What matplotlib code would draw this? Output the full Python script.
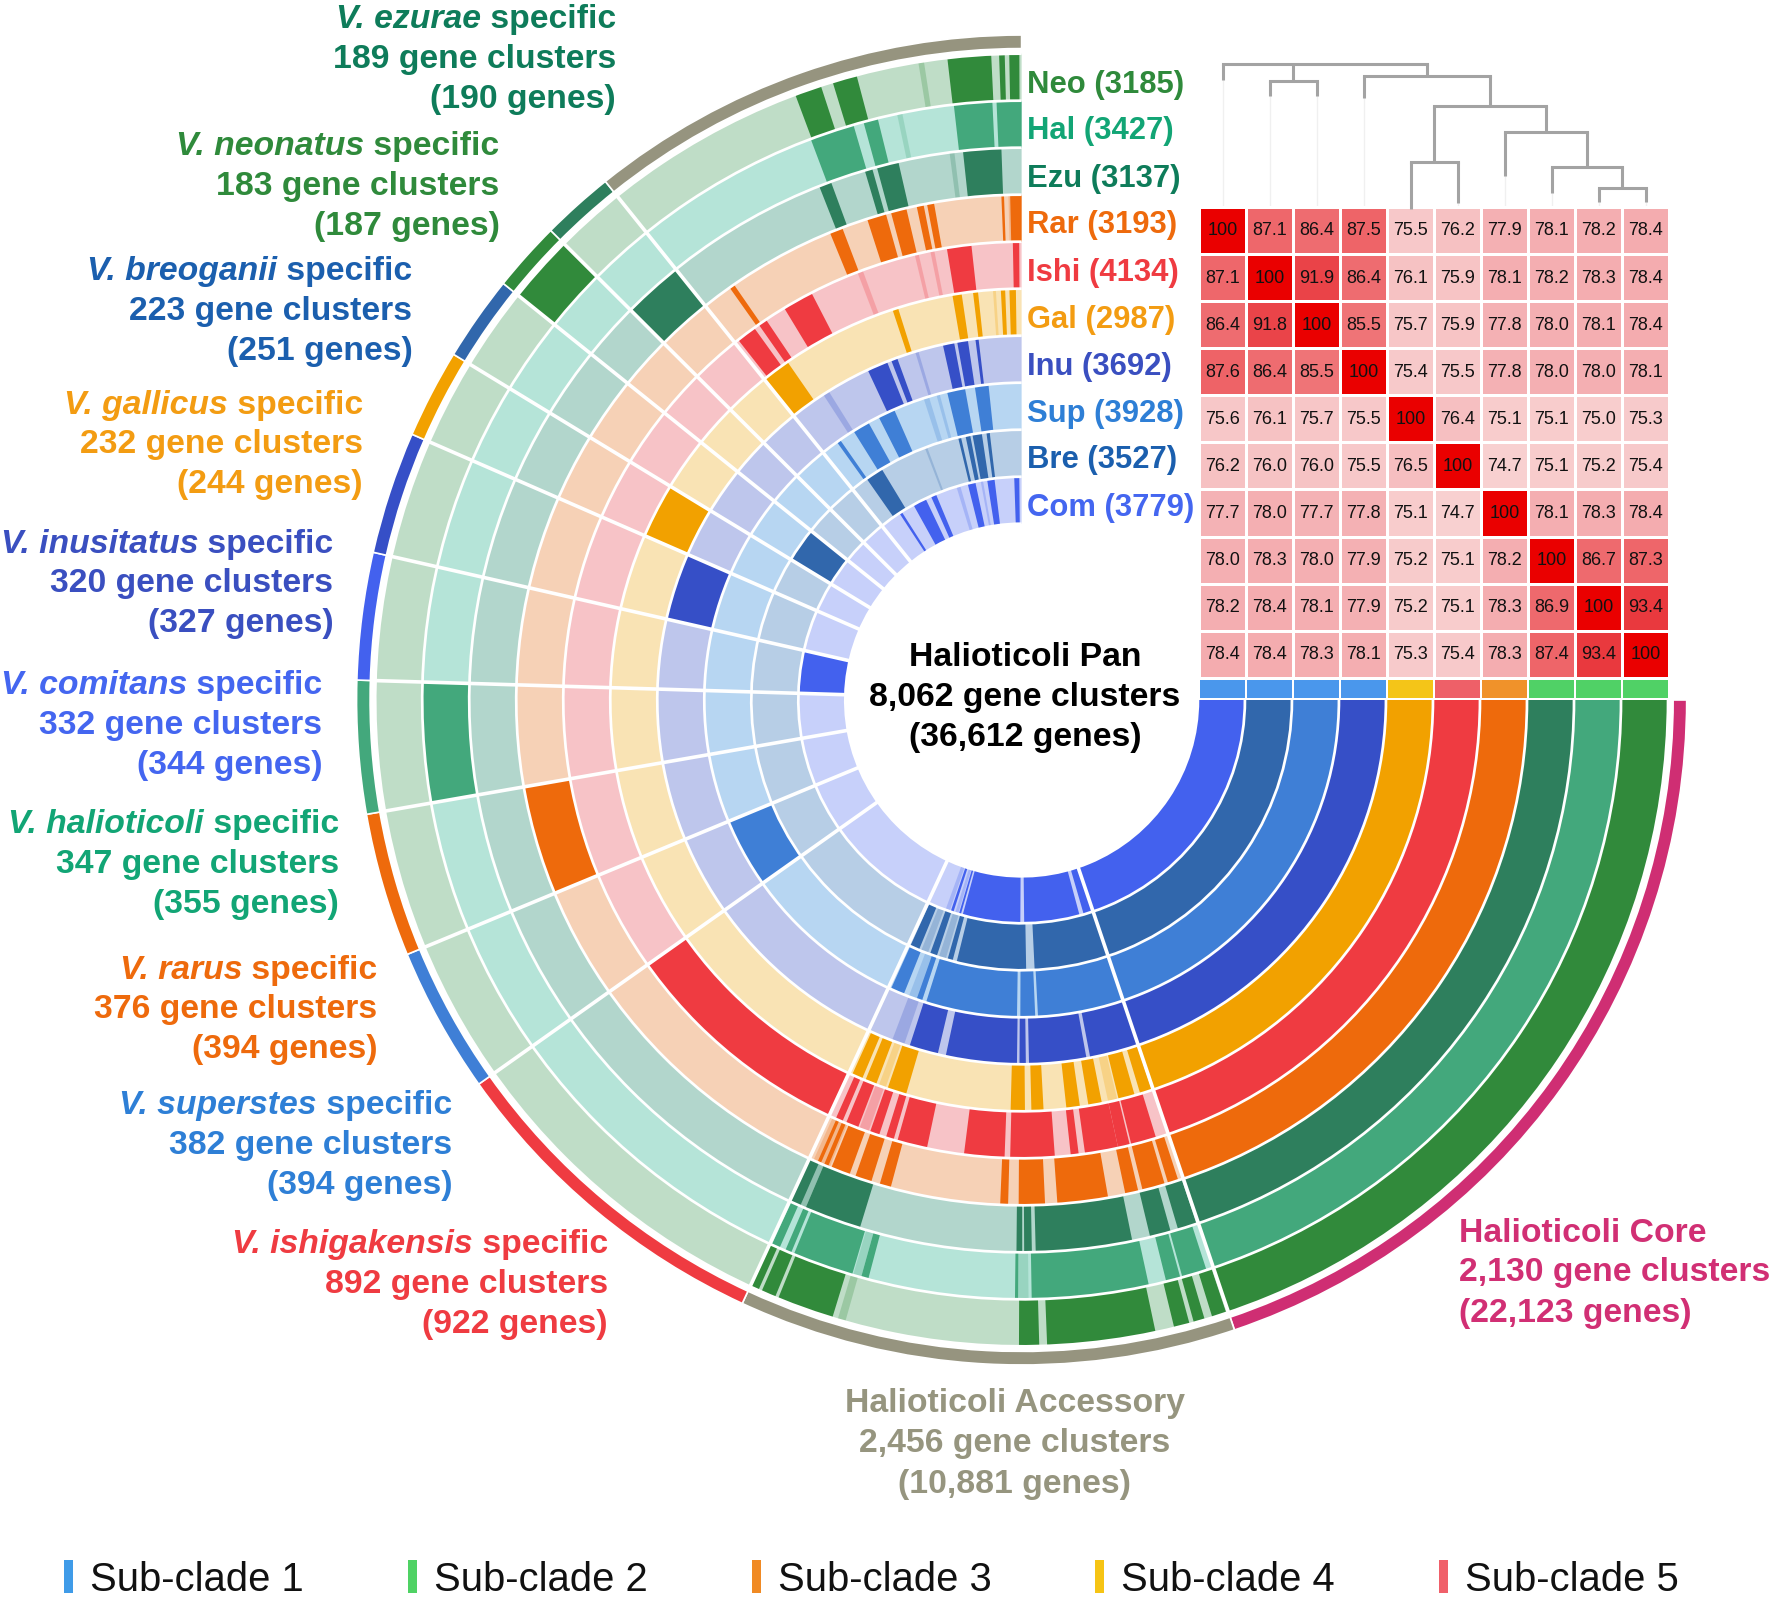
import matplotlib
matplotlib.use("Agg")
import matplotlib.pyplot as plt
from matplotlib.patches import Wedge, Rectangle
from matplotlib.colors import LinearSegmentedColormap
import numpy as np

plt.rcParams["font.family"] = ["Liberation Sans", "DejaVu Sans"]

# rings, inner to outer
genomes = ["Com", "Bre", "Sup", "Inu", "Gal", "Ishi", "Rar", "Ezu", "Hal", "Neo"]
genome_sizes = [3779, 3527, 3928, 3692, 2987, 4134, 3193, 3137, 3427, 3185]
dark_colors = ["#4361EE", "#3167AC", "#3F7FD6", "#364FC7", "#F2A100",
               "#EF3B41", "#EE6A0C", "#2E7F5D", "#43A87C", "#318A3B"]
light_colors = ["#C7D0FA", "#B7CEE6", "#B7D6F2", "#BEC6EC", "#F9E3B4",
                "#F7C3C7", "#F6D1B6", "#B2D6CC", "#B5E4D8", "#BFDDC7"]
label_colors = ["#4466F0", "#1B5FAE", "#2E7FD6", "#3A4FC0", "#F39C12",
                "#EF3B41", "#EE6A0C", "#0E7C5A", "#12A575", "#2F8A3B"]

total_clusters = 8062
core_clusters = 2130
acc_bottom_clusters = 1299
acc_top_clusters = 1157
# clockwise order after the lower accessory block
specific_names = ["Ishi", "Sup", "Rar", "Hal", "Com", "Inu", "Gal", "Bre", "Neo", "Ezu"]
specific_clusters = [892, 382, 376, 347, 332, 320, 232, 223, 183, 189]

# filled spans in the lower accessory block, degrees past the end of the core
com_low = [(0, 2.5), (3.6, 18), (19, 34), (34.5, 35), (36.5, 37.2)]
bre_low = [(0, 15.9), (17.7, 32.6), (33.5, 34.6), (37, 38.5), (41, 43)]
sup_low = [(0, 15.7), (16.2, 18.9), (19.5, 36.2), (37, 38), (40.5, 43)]
inu_low = [(0, 7.8), (8.4, 17.5), (18, 19), (19.4, 30.7), (32, 36.6)]
gal_low = [(0.2, 1.9), (2.7, 5), (7.4, 9.3), (10.5, 12.4), (15.6, 17.3), (18.2, 20.2),
           (35, 37.7), (39.4, 41), (41.5, 43)]
ishi_low = [(1.6, 4.8), (5, 6.5), (6.5, 10.7), (11.5, 12.5), (14.5, 20.1), (20.8, 25.9),
            (30.6, 34.4), (34.9, 35.9), (36.8, 38), (39.6, 41.2), (41.7, 42.6)]
rar_low = [(0.6, 1.8), (2.2, 4.8), (5.3, 6.8), (8.8, 14.6), (16, 19), (20.2, 21.1),
           (33.7, 35), (36, 37.9), (38.6, 40.8), (41.2, 41.7), (42.1, 42.5)]
ezu_low = [(0.2, 2.2), (3, 5.2), (7.1, 17.2), (17.6, 18.4), (18.6, 19.2),
           (35.7, 41.7), (42.3, 43.4)]
hal_low = [(0.7, 3.1), (3.3, 4.7), (6.4, 17.7), (19, 19.3), (33.5, 34.2),
           (35.1, 41), (41.3, 41.9), (42.5, 43.3)]
neo_low = [(0.2, 1.5), (2.2, 3.2), (3.6, 5), (6.7, 16.4), (17.1, 18.9),
           (35.7, 40.8), (41.1, 42.4), (42.7, 43.4)]
low_spans = [com_low, bre_low, sup_low, inu_low, gal_low, ishi_low, rar_low, ezu_low, hal_low, neo_low]

# filled spans in the upper accessory block, degrees before 12 o'clock
com_top = [(0.6, 1.9), (7, 8.9), (12, 14), (22.6, 24), (25.5, 29), (32.5, 33.2)]
bre_top = [(6.8, 7.5), (8.5, 10.5), (11, 12), (13, 13.6), (31.2, 35)]
sup_top = [(6, 8.5), (10.3, 13.6), (23.7, 26.8), (28.9, 32), (34.9, 35.6)]
inu_top = [(6.8, 7.3), (8.5, 10.2), (10.7, 12.5), (20, 21), (21.7, 25)]
gal_top = [(0.8, 1.7), (2.3, 2.9), (6.1, 6.8), (8.4, 9.7), (17.5, 18.3), (34.7, 38.7)]
ishi_top = [(0.3, 1.1), (6.3, 9.4), (27.3, 31.2), (33.9, 35), (35.7, 38.2)]
rar_top = [(0, 1.3), (2, 2.3), (10, 10.8), (11.2, 12), (13.2, 15), (15.6, 17.8),
           (20.8, 22.3), (34.7, 35.3)]
ezu_top = [(2.1, 6.1), (12.9, 15.2), (15.7, 16.5), (20.2, 21.5)]
hal_top = [(0, 2.4), (2.8, 6.5), (13.9, 15.3), (16.3, 20.6)]
neo_top = [(0.2, 1.1), (1.5, 2), (2.7, 6.6), (14.8, 17), (18.1, 20.5)]
top_spans = [com_top, bre_top, sup_top, inu_top, gal_top, ishi_top, rar_top, ezu_top, hal_top, neo_top]

# weak streaks on the pale parts of the rings (ring name, from, to)
faint_top = [("Neo", 8.7, 9.2), ("Hal", 11.5, 12), ("Ezu", 7, 7.5), ("Ishi", 20.3, 21), ("Ishi", 11, 11.5),
             ("Ishi", 13, 13.5), ("Inu", 16.5, 17), ("Inu", 32, 33), ("Bre", 20.5, 21), ("Sup", 17, 18),
             ("Sup", 15, 15.6), ("Com", 10, 10.6), ("Com", 16, 17), ("Gal", 3.6, 4), ("Rar", 0.9, 1.5)]
faint_low = [("Com", 35.2, 36), ("Com", 37.5, 38.6), ("Bre", 35, 36.5), ("Bre", 39, 40.5), ("Sup", 37, 39.5),
             ("Inu", 37.5, 39.5), ("Gal", 38, 39), ("Ishi", 38.2, 39.4), ("Rar", 41, 43), ("Ezu", 41.7, 43),
             ("Hal", 34.2, 35), ("Hal", 18, 19), ("Neo", 34.5, 35.2), ("Gal", 5.2, 6.5)]

ani_values = [
    [100, 87.1, 86.4, 87.5, 75.5, 76.2, 77.9, 78.1, 78.2, 78.4],
    [87.1, 100, 91.9, 86.4, 76.1, 75.9, 78.1, 78.2, 78.3, 78.4],
    [86.4, 91.8, 100, 85.5, 75.7, 75.9, 77.8, 78.0, 78.1, 78.4],
    [87.6, 86.4, 85.5, 100, 75.4, 75.5, 77.8, 78.0, 78.0, 78.1],
    [75.6, 76.1, 75.7, 75.5, 100, 76.4, 75.1, 75.1, 75.0, 75.3],
    [76.2, 76.0, 76.0, 75.5, 76.5, 100, 74.7, 75.1, 75.2, 75.4],
    [77.7, 78.0, 77.7, 77.8, 75.1, 74.7, 100, 78.1, 78.3, 78.4],
    [78.0, 78.3, 78.0, 77.9, 75.2, 75.1, 78.2, 100, 86.7, 87.3],
    [78.2, 78.4, 78.1, 77.9, 75.2, 75.1, 78.3, 86.9, 100, 93.4],
    [78.4, 78.4, 78.3, 78.1, 75.3, 75.4, 78.3, 87.4, 93.4, 100],
]
strip_colors = ["#4A97EC"] * 4 + ["#F4C518", "#EE6068", "#F0922A"] + ["#50D166"] * 3
legend_names = ["Sub-clade 1", "Sub-clade 2", "Sub-clade 3", "Sub-clade 4", "Sub-clade 5"]
legend_colors = ["#3F9BE8", "#4FD264", "#F08A24", "#F6C414", "#F0606A"]

# dendrogram: children of each merge (leaf column or earlier merge name) and bar height
leaf_ends = [71.2, 85.4, 85.4, 86.6, 185, 180, 155.7, 170.7, 178.9, 178.9]
merges = [
    ("n89", [8, 9], 166.5),
    ("n7", [7, "n89"], 148),
    ("n6", [6, "n7"], 116.5),
    ("n45", [4, 5], 143),
    ("n46", ["n45", "n6"], 94),
    ("n3", [3, "n46"], 67.5),
    ("n12", [1, 2], 71.5),
    ("root", [0, "n12", "n3"], 56.5),
]

fig = plt.figure(figsize=(17.72, 16), dpi=100)
ax = fig.add_axes([0, 0, 1, 1])
ax.set_xlim(0, 1568)
ax.set_ylim(1416, 0)  # y runs down, so wedge angles run clockwise
ax.axis("off")

cx, cy = 904, 619.5
r_in = 156
ring_w = 41.6
n_rings = len(genomes)
r_out = r_in + n_rings * ring_w
deg_per_cluster = 270 / total_clusters
text_shift = 2.5


def ring_wedge(i, a0, a1, color, alpha=1):
    ax.add_patch(Wedge((cx, cy), r_in + (i + 1) * ring_w, a0, a1, width=ring_w, fc=color, ec="none",
                       alpha=alpha, zorder=2))


core_end = core_clusters * deg_per_cluster
low_end = core_end + acc_bottom_clusters * deg_per_cluster

for i in range(n_rings):
    ring_wedge(i, 0, core_end, dark_colors[i])
    ring_wedge(i, core_end, 270, light_colors[i])
    for s0, s1 in low_spans[i]:
        ring_wedge(i, core_end + s0, core_end + s1, dark_colors[i])
    for s0, s1 in top_spans[i]:
        ring_wedge(i, 270 - s1, 270 - s0, dark_colors[i])
for name, s0, s1 in faint_low:
    i = genomes.index(name)
    ring_wedge(i, core_end + s0, core_end + s1, dark_colors[i], alpha=0.25)
for name, s0, s1 in faint_top:
    i = genomes.index(name)
    ring_wedge(i, 270 - s1, 270 - s0, dark_colors[i], alpha=0.25)

# species-specific sectors
boundaries = [core_end, low_end]
a = low_end
rim_parts = [(0, core_end, "#CF2E73"), (core_end, low_end, "#96947F")]
for name, count in zip(specific_names, specific_clusters):
    b = a + count * deg_per_cluster
    i = genomes.index(name)
    ring_wedge(i, a, b, dark_colors[i])
    rim_parts.append((a, b, dark_colors[i]))
    boundaries.append(b)
    a = b
rim_parts.append((a, 270, "#96947F"))

for a0, a1, color in rim_parts:
    ax.add_patch(Wedge((cx, cy), r_out + 16.5, a0, a1, width=12, fc=color, ec="white", lw=1.2, zorder=3))

# white ring and sector separators
for i in range(n_rings + 1):
    ax.add_patch(Wedge((cx, cy), r_in + i * ring_w + 1.2, 0, 270, width=2.4, fc="white", ec="none", zorder=4))
for b in boundaries:
    t = np.deg2rad(b)
    ax.plot([cx + r_in * np.cos(t), cx + r_out * np.cos(t)],
            [cy + r_in * np.sin(t), cy + r_out * np.sin(t)], color="white", lw=2.6, zorder=4)

# heatmap
cell_w = 41.6
cell_h = 41.7
heat_x = 1061
heat_top = 183
heat_cmap = LinearSegmentedColormap.from_list(
    "ani", [(0, "#F8D0D0"), (0.13, "#F4AFB2"), (0.49, "#EE676B"), (0.75, "#E9373C"), (1, "#EA0000")])
ani = np.array(ani_values)
xe = heat_x + np.arange(11) * cell_w
ye = heat_top + np.arange(11) * cell_h
ax.pcolormesh(xe, ye, ani, cmap=heat_cmap, vmin=74.7, vmax=100, edgecolors="white", linewidth=2, zorder=2)
for r in range(10):
    for c in range(10):
        v = ani_values[r][c]
        txt = "100" if v == 100 else f"{v:.1f}"
        ax.text(xe[c] + cell_w / 2, ye[r] + cell_h / 2 + 0.5, txt, ha="center", va="center", fontsize=13,
                color="#111111", zorder=5)
for c, color in enumerate(strip_colors):
    ax.add_patch(Rectangle((xe[c] + 1, 602), cell_w - 2, 16, fc=color, ec="none", zorder=2))

# dendrogram
node_pos = {}
leaf_x = heat_x + (np.arange(10) + 0.5) * cell_w
for name, children, height in merges:
    xs = []
    for ch in children:
        if isinstance(ch, int):
            xs.append(leaf_x[ch])
            ax.plot([leaf_x[ch]] * 2, [height, leaf_ends[ch]], color="#A3A3A3", lw=2.2, solid_capstyle="butt", zorder=3)
            ax.plot([leaf_x[ch]] * 2, [leaf_ends[ch], heat_top], color="#F0F0F0", lw=1, zorder=1)
        else:
            xs.append(node_pos[ch][0])
            ax.plot([node_pos[ch][0]] * 2, [height, node_pos[ch][1]], color="#A3A3A3", lw=2.2, solid_capstyle="butt", zorder=3)
    ax.plot([min(xs), max(xs)], [height, height], color="#A3A3A3", lw=2.2, solid_capstyle="projecting", zorder=3)
    node_pos[name] = ((xs[0] + xs[-1]) / 2, height)

# genome labels
genome_label_y = [447, 405, 364, 322, 281, 239, 197, 156, 113, 73]
for i, g in enumerate(genomes):
    ax.text(909, genome_label_y[i] + text_shift, f"{g} ({genome_sizes[i]})", color=label_colors[i], fontsize=22.3,
            fontweight="bold", ha="left", va="center", zorder=5)

# species labels: species name in italics, the rest upright
species = ["V. ezurae", "V. neonatus", "V. breoganii", "V. gallicus", "V. inusitatus",
           "V. comitans", "V. halioticoli", "V. rarus", "V. superstes", "V. ishigakensis"]
species_clusters = [189, 183, 223, 232, 320, 332, 347, 376, 382, 892]
species_genes = [190, 187, 251, 244, 327, 344, 355, 394, 394, 922]
species_right = [545, 442, 365, 321, 295, 285, 300, 334, 400, 538]
species_y = [15, 127, 238, 356, 479, 604, 727, 856, 976, 1099]
species_colors = ["#0E7C5A", "#2F8A3B", "#1B5FAE", "#F39C12", "#3A4FC0",
                  "#4466F0", "#12A575", "#EE6A0C", "#2E7FD6", "#EF3B41"]
renderer = fig.canvas.get_renderer()
for k, sp in enumerate(species):
    x, y, col = species_right[k], species_y[k] + text_shift, species_colors[k]
    t = ax.text(x, y, " specific", color=col, fontsize=24.3, fontweight="bold", ha="right", va="center", zorder=5)
    x0 = ax.transData.inverted().transform(t.get_window_extent(renderer).get_points())[0][0]
    ax.text(x0, y, sp, color=col, fontsize=24.3, fontweight="bold", style="italic", ha="right", va="center", zorder=5)
    ax.text(x, y + 35.3, f"{species_clusters[k]} gene clusters", color=col, fontsize=24.3, fontweight="bold",
            ha="right", va="center", zorder=5)
    ax.text(x, y + 70.6, f"({species_genes[k]} genes)", color=col, fontsize=24.3, fontweight="bold",
            ha="right", va="center", zorder=5)

# summary labels
for y, s in zip([579, 615, 650], ["Halioticoli Pan", "8,062 gene clusters", "(36,612 genes)"]):
    ax.text(907, y + text_shift, s, color="black", fontsize=24.3, fontweight="bold", ha="center", va="center", zorder=5)
for y, s in zip([1089, 1124, 1160], ["Halioticoli Core", "2,130 gene clusters", "(22,123 genes)"]):
    ax.text(1291, y + text_shift, s, color="#D12F74", fontsize=24.3, fontweight="bold", ha="left", va="center", zorder=5)
for y, s in zip([1240, 1275, 1311], ["Halioticoli Accessory", "2,456 gene clusters", "(10,881 genes)"]):
    ax.text(898, y + text_shift, s, color="#96957F", fontsize=24.3, fontweight="bold", ha="center", va="center", zorder=5)

# legend
for k, (name, color) in enumerate(zip(legend_names, legend_colors)):
    ax.add_patch(Rectangle((57 + 304 * k, 1381), 8, 29, fc=color, ec="none"))
    ax.text(80 + 304 * k, 1396 + text_shift, name, fontsize=28.8, color="#111111", ha="left", va="center")

fig.savefig("out.png", dpi=100)
